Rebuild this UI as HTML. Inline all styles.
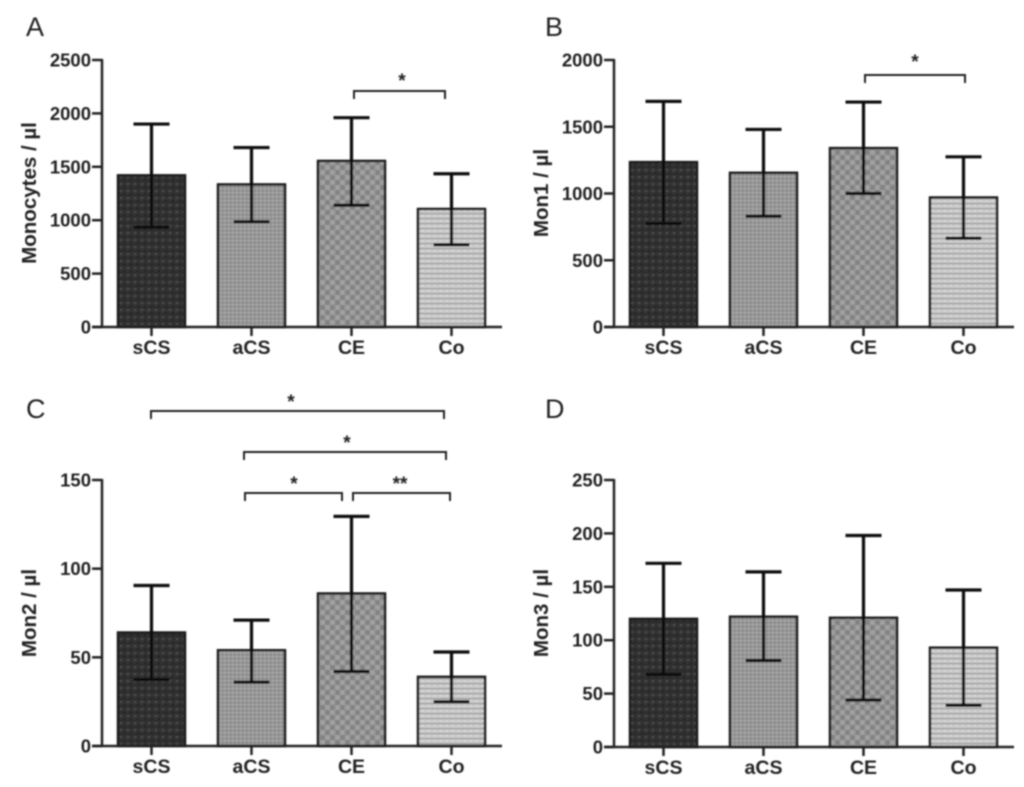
<!DOCTYPE html>
<html lang="en">
<head>
<meta charset="utf-8">
<title>Monocyte subsets bar charts</title>
<style>
html,body{margin:0;padding:0;background:#fff;}
svg{display:block;}
text{font-family:"Liberation Sans",sans-serif;fill:#222;}
</style>
</head>
<body>
<svg id="figure" xmlns="http://www.w3.org/2000/svg" width="1024" height="787" viewBox="0 0 1024 787">
<defs>
<filter id="soft" x="-5%" y="-5%" width="110%" height="110%"><feGaussianBlur stdDeviation="0.7"/></filter>
<pattern id="fill-sCS" patternUnits="userSpaceOnUse" width="7" height="7">
<rect width="7" height="7" fill="#333"/>
<rect x="1" y="1" width="2" height="2" fill="#4d4d4d"/>
<rect x="4" y="4" width="2" height="2" fill="#222"/>
<rect x="0" y="6" width="7" height="1" fill="#2a2a2a"/>
</pattern>
<pattern id="fill-aCS" patternUnits="userSpaceOnUse" width="4" height="4">
<rect width="4" height="4" fill="#979797"/>
<rect x="0" y="0" width="1.5" height="1.5" fill="#b0b0b0"/>
<rect x="2" y="2" width="1.5" height="1.5" fill="#7f7f7f"/>
</pattern>
<pattern id="fill-CE" patternUnits="userSpaceOnUse" width="10" height="10">
<rect width="10" height="10" fill="#838383"/>
<rect x="0" y="0" width="5" height="5" fill="#a0a0a0"/>
<rect x="5" y="5" width="5" height="5" fill="#a0a0a0"/>
</pattern>
<pattern id="fill-Co" patternUnits="userSpaceOnUse" width="6" height="5">
<rect width="6" height="5" fill="#cbcbcb"/>
<rect y="3" width="6" height="1.2" fill="#989898"/>
<rect x="2" y="0" width="1.5" height="1.5" fill="#dedede"/>
</pattern>
</defs>
<g id="root" filter="url(#soft)"></g>
</svg>
<script>
var categories = ["sCS", "aCS", "CE", "Co"];

var panelALetter = "A";
var panelATitle = "Monocytes / µl";
var panelATicks = [0, 500, 1000, 1500, 2000, 2500];
var panelAMeans = [1420, 1335, 1555, 1105];
var panelAUpper = [1900, 1680, 1960, 1435];
var panelALower = [935, 985, 1140, 770];

var panelBLetter = "B";
var panelBTitle = "Mon1 / µl";
var panelBTicks = [0, 500, 1000, 1500, 2000];
var panelBMeans = [1235, 1155, 1340, 970];
var panelBUpper = [1690, 1480, 1685, 1275];
var panelBLower = [775, 830, 1000, 665];

var panelCLetter = "C";
var panelCTitle = "Mon2 / µl";
var panelCTicks = [0, 50, 100, 150];
var panelCMeans = [64, 54, 86, 39];
var panelCUpper = [90.5, 71, 129.5, 53];
var panelCLower = [37.5, 36, 42, 25];

var panelDLetter = "D";
var panelDTitle = "Mon3 / µl";
var panelDTicks = [0, 50, 100, 150, 200, 250];
var panelDMeans = [120, 122, 121, 93];
var panelDUpper = [172, 164, 198, 147];
var panelDLower = [68, 81, 44, 39];

var NS = "http://www.w3.org/2000/svg";
var root = document.getElementById("root");

function make(parent, tag, attrs, content) {
  var el = document.createElementNS(NS, tag);
  for (var k in attrs) { el.setAttribute(k, attrs[k]); }
  if (content !== undefined) { el.textContent = content; }
  parent.appendChild(el);
  return el;
}

function drawPanel(cfg) {
  var maxTick = cfg.ticks[cfg.ticks.length - 1];
  function yScale(v) { return cfg.y0 - (v / maxTick) * (cfg.y0 - cfg.yTop); }
  function xScale(i) { return cfg.x0 + 49.5 + i * 100; }

  var g = make(root, "g", {});
  
  

  var letter = make(g, "text", {x: cfg.letterX, y: cfg.letterY, "font-size": 27}, cfg.letter);
  
  

  var title = make(g, "text", {
    x: 0, y: 0, "font-size": 20.5, "font-weight": "bold", "text-anchor": "middle",
    transform: "translate(" + (cfg.x0 - 66) + "," + cfg.titleY + ") rotate(-90)"
  }, cfg.title);
  
  

  cfg.ticks.forEach(function (t) {
    var y = yScale(t);
    var tick = make(g, "line", {x1: cfg.x0 - 10, x2: cfg.x0, y1: y, y2: y, stroke: "#222", "stroke-width": 2.5});
    
    
    var label = make(g, "text", {x: cfg.x0 - 11, y: y + 6.5, "font-size": 18.5, "font-weight": "bold", "text-anchor": "end"}, String(t));
    
    
  });

  cfg.means.forEach(function (m, i) {
    var cx = xScale(i);
    var top = yScale(m);
    var bar = make(g, "rect", {
      x: cx - 33.5, y: top, width: 67, height: cfg.y0 - top,
      fill: "url(#fill-" + categories[i] + ")", stroke: "#1c1c1c", "stroke-width": 2.5
    });
    
    

    var yHi = yScale(cfg.upper[i]);
    var yLo = yScale(cfg.lower[i]);
    var stem = make(g, "line", {x1: cx, x2: cx, y1: yHi, y2: yLo, stroke: "#111", "stroke-width": 3.2});
    
    
    var capHi = make(g, "line", {x1: cx - 18, x2: cx + 18, y1: yHi, y2: yHi, stroke: "#111", "stroke-width": 3.2});
    
    
    var capLo = make(g, "line", {x1: cx - 18, x2: cx + 18, y1: yLo, y2: yLo, stroke: "#111", "stroke-width": 3.2});
    
    

    var xTick = make(g, "line", {x1: cx, x2: cx, y1: cfg.y0, y2: cfg.y0 + 9, stroke: "#222", "stroke-width": 2.5});
    
    
    var xLabel = make(g, "text", {x: cx, y: cfg.y0 + 27, "font-size": 19.5, "font-weight": "bold", "text-anchor": "middle"}, categories[i]);
    
    
  });

  var yAxis = make(g, "line", {x1: cfg.x0, x2: cfg.x0, y1: cfg.yTop - 1, y2: cfg.y0 + 1, stroke: "#222", "stroke-width": 2.5});
  
  
  var xAxis = make(g, "line", {x1: cfg.x0 - 10, x2: cfg.x0 + 400, y1: cfg.y0, y2: cfg.y0, stroke: "#222", "stroke-width": 2.5});
  
  
}

function drawBracket(x1, x2, y, label, starX, starY) {
  var path = make(root, "path", {
    d: "M" + x1 + " " + (y + 8) + "V" + y + "H" + x2 + "V" + (y + 8),
    fill: "none", stroke: "#222", "stroke-width": 2
  });
  
  
  var star = make(root, "text", {x: starX, y: starY, "font-size": 19, "font-weight": "bold", "text-anchor": "middle"}, label);
  
  
}

drawPanel({name: "panel-a", letter: panelALetter, title: panelATitle, ticks: panelATicks, means: panelAMeans, upper: panelAUpper, lower: panelALower, x0: 102, y0: 327, yTop: 60, letterX: 26, letterY: 36, titleY: 193});
drawPanel({name: "panel-b", letter: panelBLetter, title: panelBTitle, ticks: panelBTicks, means: panelBMeans, upper: panelBUpper, lower: panelBLower, x0: 614, y0: 327, yTop: 60, letterX: 545, letterY: 36, titleY: 193});
drawPanel({name: "panel-c", letter: panelCLetter, title: panelCTitle, ticks: panelCTicks, means: panelCMeans, upper: panelCUpper, lower: panelCLower, x0: 102, y0: 746, yTop: 480, letterX: 26, letterY: 418, titleY: 613});
drawPanel({name: "panel-d", letter: panelDLetter, title: panelDTitle, ticks: panelDTicks, means: panelDMeans, upper: panelDUpper, lower: panelDLower, x0: 614, y0: 747, yTop: 480, letterX: 545, letterY: 418, titleY: 613});

drawBracket(354, 445, 91, "*", 402, 87);
drawBracket(865, 965, 75, "*", 915, 68);
drawBracket(151, 444, 411, "*", 291, 408);
drawBracket(244, 446, 452, "*", 347, 449);
drawBracket(245, 342, 493, "*", 294, 490);
drawBracket(353, 450, 493, "**", 400, 490);
</script>
</body>
</html>
